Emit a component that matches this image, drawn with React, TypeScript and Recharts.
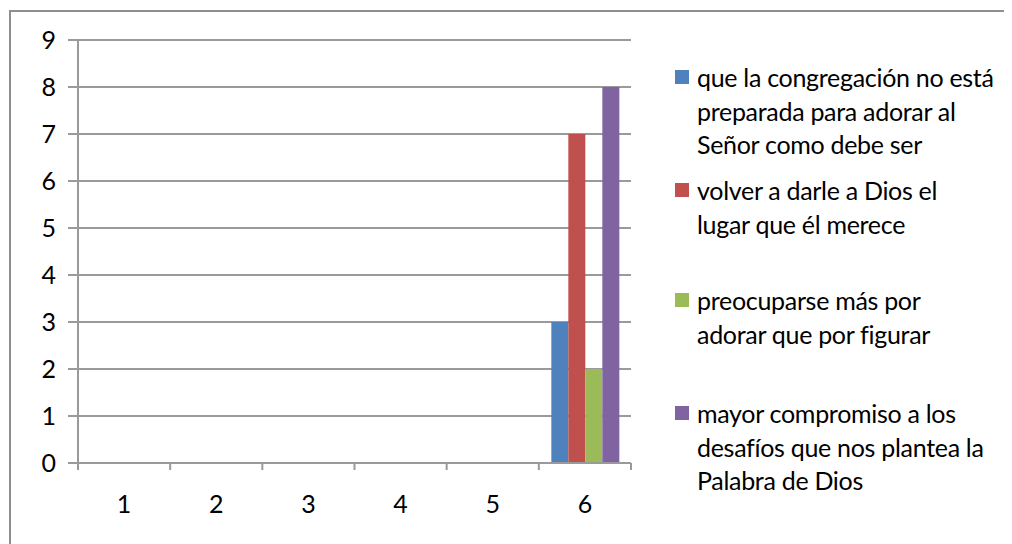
import React from 'react';
import { BarChart, Bar, XAxis, YAxis, CartesianGrid, Legend } from 'recharts';

const categories = ['1', '2', '3', '4', '5', '6'];
const congregacionValues = [0, 0, 0, 0, 0, 3];
const volverValues = [0, 0, 0, 0, 0, 7];
const preocuparseValues = [0, 0, 0, 0, 0, 2];
const compromisoValues = [0, 0, 0, 0, 0, 8];
const yTicks = [0, 1, 2, 3, 4, 5, 6, 7, 8, 9];

const seriesNames = [
    'que la congregación no está preparada para adorar al Señor como debe ser',
    'volver a darle a Dios el lugar que él merece',
    'preocuparse más por adorar que por figurar',
    'mayor compromiso a los desafíos que nos plantea la Palabra de Dios',
];
// how the legend wraps each name
const legendLines = [
    ['que la congregación no está', 'preparada para adorar al', 'Señor como debe ser'],
    ['volver a darle a Dios el', 'lugar que él merece'],
    ['preocuparse más por', 'adorar que por figurar'],
    ['mayor compromiso a los', 'desafíos que nos plantea la', 'Palabra de Dios'],
];
const colors = ['#4F81BD', '#C0504D', '#9BBB59', '#8064A2'];

const chartData = categories.map((c, i) => ({
    name: c,
    s0: congregacionValues[i],
    s1: volverValues[i],
    s2: preocuparseValues[i],
    s3: compromisoValues[i],
}));

const FONT = 'Lato, "Noto Sans", sans-serif';
const AXIS = '#9a9a9a';
const PLOT_W = 553;
const LINE_H = 33.5;
const itemTops = [29, 142, 252, 365];

function XTick(props: any) {
    const { x, y, payload, index } = props;
    const bw = PLOT_W / categories.length;
    return (
        <g>
            <line x1={x - bw / 2} y1={y - 8} x2={x - bw / 2} y2={y - 1} stroke={AXIS} strokeWidth={2} />
            {index === categories.length - 1 && (
                <line x1={x + bw / 2} y1={y - 8} x2={x + bw / 2} y2={y - 1} stroke={AXIS} strokeWidth={2} />
            )}
            <text x={x} y={y + 42} textAnchor="middle" fontSize={25} fontFamily={FONT} fill="#000">
                {payload.value}
            </text>
        </g>
    );
}

function renderLegend() {
    return (
        <div style={{ position: 'relative', width: 340, height: 470, fontFamily: FONT }}>
            {legendLines.map((lines, i) => (
                <div key={seriesNames[i]} style={{ position: 'absolute', left: 0, top: itemTops[i] }}>
                    <div style={{ position: 'absolute', left: 0, top: 11, width: 14, height: 14, background: colors[i] }} />
                    {lines.map((ln, j) => (
                        <div key={j} style={{ position: 'absolute', left: 22, top: j * LINE_H, whiteSpace: 'nowrap', fontSize: 25, lineHeight: '36px', letterSpacing: -0.3, color: '#000' }}>
                            {ln}
                        </div>
                    ))}
                </div>
            ))}
        </div>
    );
}

export default function App() {
    return (
        <div style={{ marginLeft: 1, marginTop: 2, width: 1010, height: 540, borderTop: '2px solid #8e8e8e', borderLeft: '2px solid #8e8e8e', background: '#fff' }}>
            <BarChart
                width={1000}
                height={534}
                data={chartData}
                margin={{ top: 28, right: 380, left: 0, bottom: 23 }}
                barCategoryGap={12.5}
                barGap={0}
            >
                <CartesianGrid horizontal vertical={false} stroke={AXIS} strokeWidth={2} />
                <XAxis dataKey="name" height={60} tickLine={false} axisLine={{ stroke: AXIS, strokeWidth: 2 }} tick={<XTick />} interval={0} />
                <YAxis
                    width={67}
                    domain={[0, 9]}
                    ticks={yTicks}
                    interval={0}
                    tickSize={10}
                    tickMargin={12}
                    tickLine={{ stroke: AXIS, strokeWidth: 2 }}
                    axisLine={{ stroke: AXIS, strokeWidth: 2 }}
                    tick={{ fontSize: 25, fontFamily: FONT, fill: '#000' }}
                />
                <Legend layout="vertical" align="center" verticalAlign="middle" content={renderLegend} wrapperStyle={{ left: 664, top: 18, width: 340 }} />
                <Bar dataKey="s0" name={seriesNames[0]} fill={colors[0]} isAnimationActive={false} />
                <Bar dataKey="s1" name={seriesNames[1]} fill={colors[1]} isAnimationActive={false} />
                <Bar dataKey="s2" name={seriesNames[2]} fill={colors[2]} isAnimationActive={false} />
                <Bar dataKey="s3" name={seriesNames[3]} fill={colors[3]} isAnimationActive={false} />
            </BarChart>
        </div>
    );
}
